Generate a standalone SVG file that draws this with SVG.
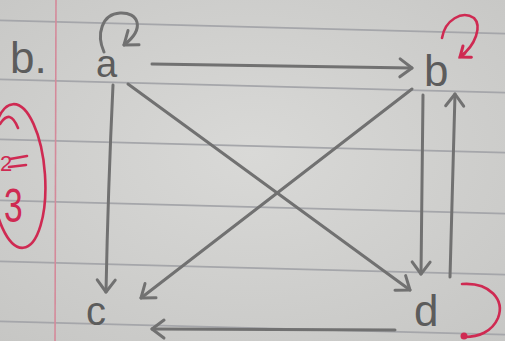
<svg xmlns="http://www.w3.org/2000/svg" width="505" height="341" viewBox="0 0 505 341">
  <defs>
    <radialGradient id="paper" cx="0.5" cy="0.45" r="0.75">
      <stop offset="0" stop-color="#d9d9d7"/>
      <stop offset="1" stop-color="#c6c6c4"/>
    </radialGradient>
    <marker id="pen" markerUnits="userSpaceOnUse" markerWidth="30" markerHeight="30" refX="0" refY="0" viewBox="-15 -15 30 30" orient="auto" overflow="visible">
      <path d="M-12,-9 L0,0 L-12,9" fill="none" stroke="#717171" stroke-width="3" stroke-linecap="round" stroke-linejoin="round"/>
    </marker>
    <marker id="redhead" markerUnits="userSpaceOnUse" markerWidth="30" markerHeight="30" refX="0" refY="0" viewBox="-15 -15 30 30" orient="auto" overflow="visible">
      <path d="M-9,-7 L0,0 L-9,7 M-6,0 L0,0" fill="none" stroke="#cf2a52" stroke-width="3" stroke-linecap="round"/>
    </marker>
  </defs>
  <style>
    .rule { stroke: #a5a6aa; stroke-width: 1.6; }
    .margin { stroke: #d48a9a; stroke-width: 1.6; }
    .pencil { fill: none; stroke: #717171; stroke-width: 3; stroke-linecap: round; stroke-linejoin: round; }
    .red { fill: none; stroke: #cf2a52; stroke-width: 2.6; stroke-linecap: round; stroke-linejoin: round; }
    .lbl { font-family: "Liberation Sans", "DejaVu Sans", sans-serif; fill: #5c5c5c; }
    .rlbl { font-family: "Liberation Sans", "DejaVu Sans", sans-serif; fill: #cf2a52; }
  </style>

  <rect x="0" y="0" width="505" height="341" fill="url(#paper)"/>

  <g id="paper-lines">
    <line class="rule" x1="0" y1="20.4" x2="505" y2="33.6"/>
    <line class="rule" x1="0" y1="79.4" x2="505" y2="92.6"/>
    <line class="rule" x1="0" y1="139.4" x2="505" y2="152.6"/>
    <line class="rule" x1="0" y1="200.4" x2="505" y2="213.6"/>
    <line class="rule" x1="0" y1="261.4" x2="505" y2="274.6"/>
    <line class="rule" x1="0" y1="321.4" x2="505" y2="334.6"/>
    <line class="margin" x1="56" y1="0" x2="55" y2="341"/>
  </g>

  <g id="annotation">
    <ellipse class="red" cx="18" cy="176" rx="27" ry="72" transform="rotate(-4 18 176)"/>
    <path class="red" d="M0,124 Q10,108 18,128"/>
    <text class="rlbl" x="0" y="171" font-size="22">2</text>
    <path class="red" d="M10,159 L27,156 M9,167 L26,165"/>
    <text class="rlbl" transform="translate(4,222) scale(0.7,1)" font-size="48">3</text>
  </g>

  <g id="problem-label">
    <text class="lbl" x="10" y="73" font-size="44">b.</text>
  </g>

  <g id="node-a">
    <text class="lbl" x="96" y="77" font-size="38">a</text>
  </g>
  <g id="node-b">
    <text class="lbl" x="424" y="86" font-size="44">b</text>
  </g>
  <g id="node-c">
    <text class="lbl" x="86" y="325" font-size="40">c</text>
  </g>
  <g id="node-d">
    <text class="lbl" x="414" y="326" font-size="44">d</text>
  </g>

  <g id="connectors">
    <path class="pencil" d="M104,52 C96,34 102,14 120,13 C138,12 146,28 124,45" marker-end="url(#pen)"/>
    <path class="pencil" d="M152,64 L412,68" marker-end="url(#pen)"/>
    <path class="pencil" d="M113,85 Q108,190 106,292" marker-end="url(#pen)"/>
    <path class="pencil" d="M128,84 L410,290" marker-end="url(#pen)"/>
    <path class="pencil" d="M412,89 L141,298" marker-end="url(#pen)"/>
    <path class="pencil" d="M423,95 L421,274" marker-end="url(#pen)"/>
    <path class="pencil" d="M450,277 L455,94" marker-end="url(#pen)"/>
    <path class="pencil" d="M395,330 L152,329" marker-end="url(#pen)"/>
    <path class="red" d="M442,38 C445,20 462,10 474,18 C482,26 476,45 460,57" marker-end="url(#redhead)"/>
    <path class="red" d="M462,284 C490,282 505,300 498,318 C492,332 478,337 465,337"/>
    <circle cx="464" cy="336" r="3.5" fill="#cf2a52"/>
  </g>
</svg>
